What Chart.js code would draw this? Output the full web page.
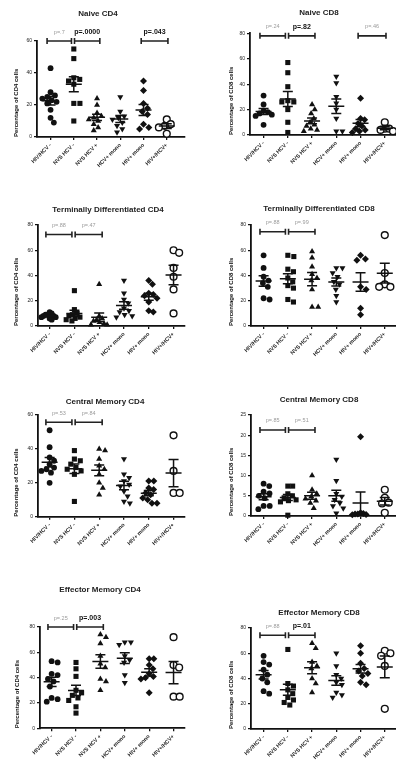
<!DOCTYPE html>
<html><head><meta charset="utf-8">
<script src="https://cdn.jsdelivr.net/npm/chart.js@4.4.1/dist/chart.umd.min.js"></script>
<style>
html,body{margin:0;padding:0;background:#fff;width:396px;height:768px;overflow:hidden;position:relative}
canvas{position:absolute}
</style></head><body>
<script>
// ---------- DATA ----------
const categories = ["HIV/HCV -", "NVS HCV -", "NVS HCV +", "HCV+ mono", "HIV+ mono", "HIV+/HCV+"];
const panelTitles = ["Naive CD4", "Naive CD8", "Terminally Differentiated CD4", "Terminally Differentiated CD8",
                     "Central Memory CD4", "Central Memory CD8", "Effector Memory CD4", "Effector Memory CD8"];
const yTitles = ["Percentage of CD4 cells", "Percentage of CD8 cells", "Percentage of CD4 cells", "Percentage of CD8 cells",
                 "Percentage of CD4 cells", "Percentage of CD8 cells", "Percentage of CD4 cells", "Percentage of CD8 cells"];
const yMaxes = [60, 80, 80, 80, 60, 25, 80, 80];
const ySteps = [20, 20, 20, 20, 20, 5, 20, 20];

const naiveCD4 = [
  [43, 28, 26, 25, 24, 23, 22, 21, 17, 12, 9],
  [55, 49, 37, 36, 35, 33, 21, 21, 10],
  [24, 20, 15, 13, 12, 11, 10, 8, 6, 4],
  [25, 16, 13, 12, 11, 9, 7, 5, 3],
  [35, 29, 21, 18, 16, 14, 8, 6, 5],
  [11, 8, 7, 6, 2]
];
const naiveCD8 = [
  [31, 24, 19, 18, 17, 16, 15, 8],
  [57, 49, 38, 27, 26, 26, 20, 10, 2],
  [24, 20, 17, 13, 10, 8, 7, 5, 4, 3],
  [46, 41, 30, 25, 20, 13, 3, 3],
  [29, 13, 12, 9, 7, 5, 4, 3, 2],
  [10, 5, 5, 4, 3]
];
const tdCD4 = [
  [11, 10, 9, 9, 8, 8, 7, 7, 6, 5],
  [28, 13, 10, 9, 8, 7, 6, 5, 4],
  [33, 8, 6, 5, 4, 3, 2, 1, 1],
  [36, 26, 21, 18, 14, 12, 11, 9, 8, 7],
  [36, 33, 26, 25, 24, 22, 19, 12, 11],
  [60, 58, 46, 39, 29, 10]
];
const tdCD8 = [
  [56, 46, 39, 36, 34, 31, 22, 21],
  [56, 55, 45, 43, 38, 35, 32, 30, 21, 19],
  [59, 54, 47, 41, 38, 36, 29, 15, 15],
  [46, 46, 42, 39, 35, 33, 29, 24, 19],
  [56, 53, 52, 31, 29, 14, 9],
  [72, 42, 33, 31, 31]
];
const cmCD4 = [
  [51, 41, 35, 33, 31, 29, 28, 27, 26, 20],
  [39, 34, 33, 31, 29, 28, 27, 25, 9],
  [40, 39, 34, 30, 28, 25, 20, 17, 13],
  [34, 25, 23, 21, 19, 18, 15, 12, 9, 8],
  [21, 21, 17, 16, 14, 13, 11, 10, 8, 8],
  [48, 27, 14, 14]
];
const cmCD8 = [
  [8, 7.4, 6, 5.6, 5, 4.4, 2.5, 2.5, 1.7],
  [7.4, 7.4, 5.5, 5, 4.5, 4, 3.8, 3.5, 0.2],
  [10, 6.5, 5.5, 4.8, 4.3, 3.8, 3.2, 1.9],
  [14, 8.7, 5.5, 4.8, 4, 3.2, 2.5, 1.9, 0.7],
  [19.6, 0.8, 0.6, 0.5, 0.5, 0.4, 0.3],
  [6.5, 4.5, 3.3, 3.1, 0.8]
];
const emCD4 = [
  [53, 52, 43, 42, 39, 37, 33, 24, 23, 21],
  [52, 47, 41, 30, 28, 26, 24, 22, 17, 12],
  [74, 72, 67, 57, 51, 48, 39, 37, 30],
  [68, 68, 66, 57, 54, 52, 42, 36],
  [55, 55, 50, 47, 43, 41, 40, 39, 28],
  [72, 50, 48, 25, 25]
];
const emCD8 = [
  [58, 53, 51, 47, 43, 40, 37, 30, 28],
  [63, 36, 34, 31, 28, 25, 23, 21, 19],
  [68, 64, 53, 50, 48, 40, 36, 29],
  [60, 50, 43, 40, 37, 35, 29, 27, 25],
  [66, 60, 52, 48, 46, 44, 42, 37, 35],
  [62, 60, 58, 50, 16]
];
const panelData = [naiveCD4, naiveCD8, tdCD4, tdCD8, cmCD4, cmCD8, emCD4, emCD8];

// comparison brackets: [groupA, groupB, label, significant]
const bracketLevels = [60, 78, 72.5, 74.7, 55.7, 21.3, 80, 74.2];
const pValues = [
  [[1, 2, "p=.7", false], [2, 3, "p=.0000", true], [5, 6, "p=.043", true]],
  [[1, 2, "p=.24", false], [2, 3, "p=.82", true], [5, 6, "p=.46", false]],
  [[1, 2, "p=.88", false], [2, 3, "p=.47", false]],
  [[1, 2, "p=.88", false], [2, 3, "p=.99", false]],
  [[1, 2, "p=.53", false], [2, 3, "p=.84", false]],
  [[1, 2, "p=.85", false], [2, 3, "p=.51", false]],
  [[1, 2, "p=.25", false], [2, 3, "p=.003", true]],
  [[1, 2, "p=.88", false], [2, 3, "p=.01", true]]
];

// ---------- LAYOUT (page pixels) ----------
const layoutCfg = [
  {cl: 0,   ct: 0,   titleX: 98,  titleY: 13.3, axisX: 37,  top: 41,   bottom: 137,   g1: 51,  sp: 24,   yTitleX: 16},
  {cl: 198, ct: 0,   titleX: 319, titleY: 13,   axisX: 250, top: 33.3, bottom: 135,   g1: 264, sp: 25,   yTitleX: 231},
  {cl: 0,   ct: 190, titleX: 108, titleY: 210,  axisX: 38,  top: 225,  bottom: 326,   g1: 50,  sp: 25.6, yTitleX: 16},
  {cl: 198, ct: 190, titleX: 319, titleY: 209,  axisX: 251, top: 225,  bottom: 326,   g1: 264, sp: 25,   yTitleX: 231},
  {cl: 0,   ct: 380, titleX: 105, titleY: 402,  axisX: 38,  top: 415,  bottom: 516.7, g1: 50,  sp: 25.6, yTitleX: 16},
  {cl: 198, ct: 380, titleX: 319, titleY: 400,  axisX: 251, top: 415,  bottom: 516,   g1: 264, sp: 25,   yTitleX: 231},
  {cl: 0,   ct: 575, titleX: 100, titleY: 590,  axisX: 40,  top: 627,  bottom: 728.3, g1: 52,  sp: 25.2, yTitleX: 17},
  {cl: 198, ct: 575, titleX: 319, titleY: 613,  axisX: 251, top: 628,  bottom: 729,   g1: 264, sp: 25,   yTitleX: 231}
];
const groupStyles = [
  {style: 'circle',   r: 2.9, rot: 0,   fill: '#111', bw: 0},
  {style: 'rect',     r: 3.6, rot: 0,   fill: '#111', bw: 0},
  {style: 'triangle', r: 3.5, rot: 0,   fill: '#111', bw: 0},
  {style: 'triangle', r: 3.5, rot: 180, fill: '#111', bw: 0},
  {style: 'rectRot',  r: 3.5, rot: 0,   fill: '#111', bw: 0},
  {style: 'circle',   r: 3.4, rot: 0,   fill: '#fff', bw: 1.4}
];

Chart.defaults.font.family = "'Liberation Sans', Arial, sans-serif";
Chart.defaults.color = '#222';

// deterministic beeswarm spreading (pixel space), compressed to a max half-width
function swarm(values, pxPerY, pxPerX, D, maxHalf) {
  const idx = values.map((v, i) => i).sort((a, b) => values[b] - values[a]);
  const placed = []; const off = new Array(values.length).fill(0);
  for (const i of idx) {
    const y = values[i] * pxPerY;
    const cands = [0];
    for (const p of placed) {
      const dy = Math.abs(p.y - y);
      if (dy < D) { const dx = Math.sqrt(D * D - dy * dy); cands.push(p.x + dx + 0.01, p.x - dx - 0.01); }
    }
    cands.sort((a, b) => Math.abs(a) - Math.abs(b));
    let best = 0;
    for (const c of cands) {
      if (placed.every(p => Math.hypot(p.x - c, p.y - y) >= D - 0.001)) { best = c; break; }
    }
    placed.push({x: best, y}); off[i] = best;
  }
  const mx = Math.max(...off.map(Math.abs));
  const k = mx > maxHalf ? maxHalf / mx : 1;
  return off.map(o => o * k / pxPerX);
}

const decoPlugin = {
  id: 'deco',
  afterDatasetsDraw(chart, args, opts) {
    const {ctx, scales: {x, y}} = chart;
    ctx.save();
    ctx.strokeStyle = '#111'; ctx.lineWidth = 1.5;
    opts.groups.forEach((vals, gi) => {
      const n = vals.length, m = vals.reduce((a, b) => a + b, 0) / n;
      const sd = Math.sqrt(vals.reduce((a, b) => a + (b - m) ** 2, 0) / (n - 1));
      const se = sd / Math.sqrt(n);
      const px = x.getPixelForValue(gi + 1);
      const pm = y.getPixelForValue(m), pt = y.getPixelForValue(m + se), pb = y.getPixelForValue(Math.max(m - se, 0));
      ctx.beginPath();
      ctx.moveTo(px - 8, pm); ctx.lineTo(px + 8, pm);
      ctx.moveTo(px, pt); ctx.lineTo(px, pb);
      ctx.moveTo(px - 5, pt); ctx.lineTo(px + 5, pt);
      ctx.moveTo(px - 5, pb); ctx.lineTo(px + 5, pb);
      ctx.stroke();
    });
    const br = opts.brackets;
    const py = y.getPixelForValue(opts.level);
    br.forEach(([a, b, label, sig]) => {
      const startsAtB = br.some(o => o[0] === b);
      const endsAtA = br.some(o => o[1] === a);
      let x1, x2;
      if (startsAtB) { x1 = a - 0.15; x2 = b - 0.1; }
      else if (endsAtA) { x1 = a + 0.03; x2 = b + 0.12; }
      else { x1 = a - 0.1; x2 = b + 0.05; }
      const p1 = x.getPixelForValue(x1), p2 = x.getPixelForValue(x2);
      ctx.lineWidth = 1.6; ctx.strokeStyle = '#222';
      ctx.beginPath();
      ctx.moveTo(p1, py); ctx.lineTo(p2, py);
      ctx.moveTo(p1, py - 3); ctx.lineTo(p1, py + 3);
      ctx.moveTo(p2, py - 3); ctx.lineTo(p2, py + 3);
      ctx.stroke();
      ctx.font = sig ? "bold 7px 'Liberation Sans', Arial" : "5.5px 'Liberation Sans', Arial";
      ctx.fillStyle = sig ? '#111' : '#9a9a9a';
      ctx.textAlign = 'center'; ctx.textBaseline = 'middle';
      ctx.fillText(label, (p1 + p2) / 2, py - 9);
    });
    ctx.restore();
  }
};

panelData.forEach((groups, i) => {
  const L = layoutCfg[i];
  const chartRight = L.cl < 100 ? 189 : 408;
  const W = chartRight - L.cl;
  const pl = 2 * (L.titleX - L.cl) - W;
  const yw = L.axisX - L.cl - pl;
  const H = Math.ceil(L.bottom - L.ct + 45);
  const xh = H - (L.bottom - L.ct);
  const tp = L.titleY - L.ct - 4.8;
  const tb = L.top - L.ct - tp - 9.6;
  const xMin = 1 - (L.g1 - L.axisX) / L.sp;
  const xMax = xMin + (chartRight - L.axisX) / L.sp;
  const yPx = (L.bottom - L.top) / yMaxes[i];

  const cv = document.createElement('canvas');
  cv.width = W; cv.height = H;
  cv.style.left = L.cl + 'px'; cv.style.top = L.ct + 'px';
  document.body.appendChild(cv);

  const datasets = groups.map((vals, gi) => {
    const off = swarm(vals, yPx, L.sp, 6.3, 8.5);
    const st = groupStyles[gi];
    return {
      data: vals.map((v, k) => ({x: gi + 1 + off[k], y: v})),
      pointStyle: st.style, pointRadius: st.r, pointHoverRadius: st.r, pointRotation: st.rot,
      backgroundColor: st.fill, borderColor: '#111', borderWidth: st.bw,
      clip: false, showLine: false
    };
  });

  const gridOpts = {display: true, drawOnChartArea: false, drawTicks: true, tickLength: 3, color: '#111', lineWidth: 1.3};
  const borderOpts = {display: true, color: '#111', width: 1.8};

  new Chart(cv, {
    type: 'scatter',
    data: {datasets},
    plugins: [decoPlugin],
    options: {
      responsive: false, animation: false, events: [],
      layout: {padding: {left: pl, right: 0, top: 0, bottom: 0}},
      plugins: {
        legend: {display: false}, tooltip: {enabled: false},
        title: {display: true, text: panelTitles[i], font: {size: 8, weight: 'bold'}, color: '#222', padding: {top: tp, bottom: tb}},
        deco: {groups, brackets: pValues[i], level: bracketLevels[i]}
      },
      scales: {
        x: {
          type: 'linear', min: xMin, max: xMax,
          afterBuildTicks: s => { s.ticks = categories.map((c, k) => ({value: k + 1})); },
          afterFit: s => { s.height = xh; },
          grid: gridOpts, border: borderOpts,
          ticks: {autoSkip: false, minRotation: 45, maxRotation: 45, padding: 2,
                  font: {size: 5.5, weight: 'bold'}, color: '#222',
                  callback: v => categories[Math.round(v) - 1] || ''}
        },
        y: {
          type: 'linear', min: 0, max: yMaxes[i],
          afterFit: s => { s.width = yw; },
          grid: gridOpts, border: borderOpts,
          ticks: {stepSize: ySteps[i], font: {size: 5}, color: '#222', padding: 2},
          title: {display: true, text: yTitles[i], align: 'start', font: {size: 6, weight: 'bold'}, color: '#111',
                  padding: {top: L.yTitleX - L.cl - pl - 3.6, bottom: 0}}
        }
      }
    }
  });
});
</script>
</body></html>
